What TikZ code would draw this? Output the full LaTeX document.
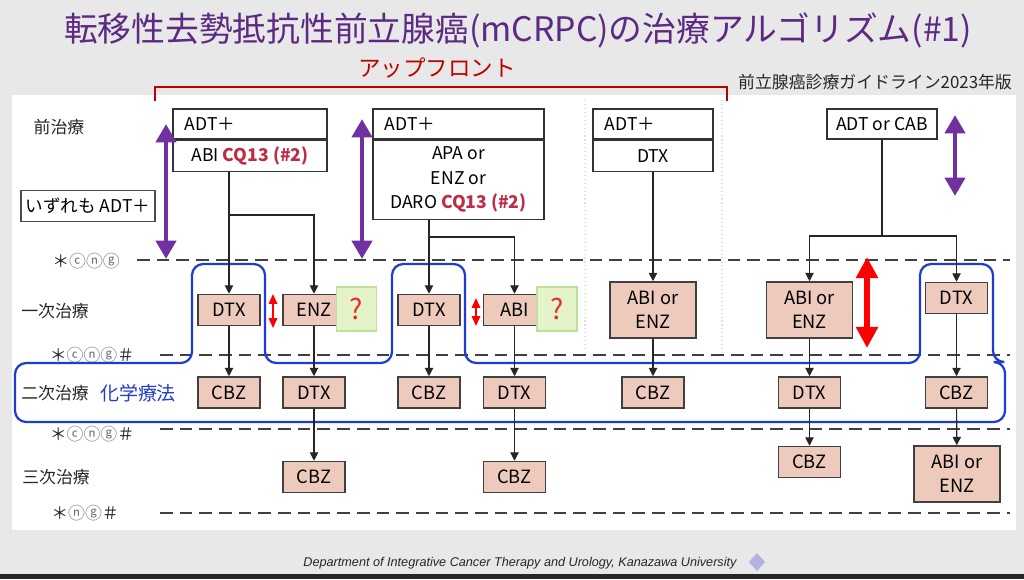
\documentclass[tikz,border=0pt]{standalone}
\usepackage{fontspec}
\setmainfont{Noto Sans CJK JP}
\newfontfamily\footfont{Liberation Sans}
\usetikzlibrary{arrows.meta,positioning}

\definecolor{titlepurple}{HTML}{5C2A82}
\definecolor{arrowpurple}{HTML}{7030A0}
\definecolor{salmon}{HTML}{EECABC}
\definecolor{chemoblue}{HTML}{1E3CD2}
\definecolor{cqred}{HTML}{BE2D45}
\definecolor{upred}{HTML}{C00000}
\definecolor{qgreen}{HTML}{E4F4C8}
\definecolor{qgreenline}{HTML}{BEE09A}
\definecolor{qred}{HTML}{E53030}

\def\cng{＊{\color{black!55}ⓒⓝⓖ}}
\def\ng{＊{\color{black!55}ⓝⓖ}}

\tikzset{
  drug/.style={draw=black!75, fill=salmon, line width=1.1pt, minimum width=1.55cm,
    minimum height=0.775cm, inner sep=0pt, font=\fontsize{13}{17}\selectfont},
  drugtwo/.style={drug, minimum width=2.15cm, minimum height=1.4cm, align=center},
  prior/.style={draw=black!80, line width=0.8pt, fill=white, inner sep=0pt,
    font=\fontsize{12.5}{17.4}\selectfont},
  priortop/.style={prior, minimum height=0.75cm, inner xsep=0.3cm, align=left},
  conn/.style={line width=0.8pt, black!85, -{Triangle[width=6pt,length=6pt]}},
  plain/.style={line width=0.8pt, black!85},
  rowline/.style={line width=2pt, black!75, dash pattern=on 9pt off 5pt},
  rowlabel/.style={font=\fontsize{12}{14}\selectfont, black!85},
  marklabel/.style={font=\fontsize{12}{13}\selectfont, black!85},
  query/.style={draw=qgreenline, fill=qgreen, line width=0.8pt, minimum width=1cm,
    minimum height=1.1cm, inner sep=0pt, text=qred, font=\fontsize{20}{22}\selectfont},
  bigpurple/.style={arrowpurple, line width=3.5pt,
    {Triangle[width=14pt,length=13pt]}-{Triangle[width=14pt,length=13pt]}},
  bigred/.style={red, line width=4pt,
    {Triangle[width=15pt,length=15pt]}-{Triangle[width=15pt,length=15pt]}},
  smallred/.style={red, line width=1.3pt,
    {Triangle[width=6pt,length=7pt]}-{Triangle[width=6pt,length=7pt]}},
  chemo/.style={chemoblue, line width=1.6pt, rounded corners=8pt},
}

\begin{document}
\begin{tikzpicture}[x=0.025cm, y=-0.025cm]
		%%%%% START %%%%%
		\useasboundingbox (0,0) rectangle (1024,579);
		\fill[black!9] (0,0) rectangle (1024,579);
		\fill[white] (12,95) rectangle (1016,530);
		\fill[black!85] (0,574) rectangle (1024,579);
		
		% title and header
		\node[titlepurple, font=\fontsize{24}{28}\selectfont] (title) at (518,30)
			{転移性去勢抵抗性前立腺癌(mCRPC)の治療アルゴリズム(\#1)};
		\node[upred, font=\fontsize{16}{18}\selectfont] (upfront) at (437,68) {アップフロント};
		\node[black!85, font=\fontsize{12}{14}\selectfont] (guide) at (875,82) {前立腺癌診療ガイドライン2023年版};
		\draw[upred, line width=1.5pt] (155,101) -- (155,87) -- (727,87) -- (727,101);
		
		\draw[black!12, dotted, line width=0.8pt] (585,100) -- (585,352);
		\draw[black!12, dotted, line width=0.8pt] (722,100) -- (722,352);
		
		% row separators
		\draw[rowline] (137,260) -- (1010,260);
		\draw[rowline] (160,355) -- (1010,355);
		\draw[rowline] (160,429) -- (1010,429);
		\draw[rowline] (160,513) -- (1010,513);
		
		\node[marklabel] (m1) at (86,261) {\cng};
		\node[marklabel] (m2) at (92,355) {\cng＃};
		\node[marklabel] (m3) at (92,434) {\cng＃};
		\node[marklabel] (m4) at (85,513) {\ng＃};
		
		\node[rowlabel] (pre) at (59,127) {前治療};
		\node[rowlabel] (first) at (55,311) {一次治療};
		\node[rowlabel] (second) at (55,393) {二次治療};
		\node[chemoblue, font=\fontsize{13.5}{15}\selectfont] (chemotext) at (138,393) {化学療法};
		\node[rowlabel] (third) at (56,477) {三次治療};
		\node[prior, draw=black!70, minimum width=3.35cm, minimum height=0.775cm] (alladt) at (88,206) {いずれも ADT＋};
		
		% chemotherapy frame
		\draw[chemo] (15,392) -- (15,363) -- (192,363) -- (192,264) -- (265,264) -- (265,363)
			-- (392,363) -- (392,264) -- (465,264) -- (465,363) -- (920,363) -- (920,264)
			-- (993,264) -- (993,362) -- (1005,362) -- (1005,422) -- (15,422) -- cycle;
		
		% prior therapy boxes
		\node[priortop, text width=3.25cm] (b1top) at (250,124) {ADT＋};
		\node[prior, minimum width=3.85cm, minimum height=0.775cm, below=0pt of b1top] (b1bot)
			{ABI {\color{cqred}\bfseries CQ13 (\#2)}};
		\node[priortop, text width=3.675cm] (b2top) at (458.5,124) {ADT＋};
		\node[prior, minimum width=4.275cm, minimum height=1.975cm, align=center, below=0pt of b2top] (b2bot)
			{APA or\\ENZ or\\DARO {\color{cqred}\bfseries CQ13 (\#2)}};
		\node[priortop, text width=2.4cm] (b3top) at (653,124) {ADT＋};
		\node[prior, minimum width=3cm, minimum height=0.775cm, below=0pt of b3top] (b3bot) {DTX};
		\node[prior, minimum width=2.75cm, minimum height=0.75cm] (b4) at (882,124) {ADT or CAB};
		
		% first line
		\node[drug] (dtxA) at (229,310) {DTX};
		\node[drug] (enzA) at (314,310) {ENZ};
		\node[query] (qA) at (356.5,309) {?};
		\node[drug] (dtxB) at (429,310) {DTX};
		\node[drug] (abiB) at (514.5,310) {ABI};
		\node[query] (qB) at (557,309) {?};
		\node[drugtwo] (abienzC) at (653,310) {ABI or\\ENZ};
		\node[drugtwo] (abienzD) at (809.5,310) {ABI or\\ENZ};
		\node[drug] (dtxE) at (956.5,298) {DTX};
		
		% second line
		\node[drug] (cbzA) at (229,392.5) {CBZ};
		\node[drug] (dtxA2) at (314,392.5) {DTX};
		\node[drug] (cbzB) at (429,392.5) {CBZ};
		\node[drug] (dtxB2) at (514.5,392.5) {DTX};
		\node[drug] (cbzC) at (653,392.5) {CBZ};
		\node[drug] (dtxD2) at (809.5,392.5) {DTX};
		\node[drug] (cbzE) at (956.5,392.5) {CBZ};
		
		% third line
		\node[drug] (cbzA3) at (314,477) {CBZ};
		\node[drug] (cbzB3) at (514.5,477) {CBZ};
		\node[drug] (cbzD3) at (809.5,462) {CBZ};
		\node[drugtwo] (abienzE3) at (957,474) {ABI or\\ENZ};
		
		% connectors
		\coordinate (forkA) at (229,215);
		\coordinate (forkB) at (429,237);
		\coordinate (forkD) at (882,236);
		\draw[conn] (b1bot.south -| dtxA) -- (dtxA.north);
		\draw[conn] (forkA) -| (enzA.north);
		\draw[conn] (b2bot.south -| dtxB) -- (dtxB.north);
		\draw[conn] (forkB) -| (abiB.north);
		\draw[conn] (b3bot.south) -- (abienzC.north);
		\draw[plain] (b4.south) -- (forkD);
		\draw[conn] (forkD) -| (abienzD.north);
		\draw[conn] (forkD) -| (dtxE.north);
		
		\draw[conn] (dtxA) -- (cbzA);
		\draw[conn] (enzA) -- (dtxA2);
		\draw[conn] (dtxB) -- (cbzB);
		\draw[conn] (abiB) -- (dtxB2);
		\draw[conn] (abienzC) -- (cbzC);
		\draw[conn] (abienzD) -- (dtxD2);
		\draw[conn] (dtxE) -- (cbzE);
		\draw[conn] (dtxA2) -- (cbzA3);
		\draw[conn] (dtxB2) -- (cbzB3);
		\draw[conn] (dtxD2) -- (cbzD3);
		\draw[conn] (cbzE) -- (abienzE3);
		
		% purple and red arrows
		\draw[bigpurple] (166,124) -- (166,259);
		\draw[bigpurple] (362,119) -- (362,259);
		\draw[bigpurple] (955,115) -- (955,196);
		\draw[bigred] (867,257) -- (867,348);
		\draw[smallred] (273,294) -- (273,328);
		\draw[smallred] (476,298) -- (476,326);
		
		% footer
		\node[black!85, font=\footfont\itshape\fontsize{9}{11}\selectfont] (footer) at (520,563)
			{Department of Integrative Cancer Therapy and Urology, Kanazawa University};
		\fill[black!35!blue!30] (757,553) -- (765,562) -- (757,571) -- (749,562) -- cycle;
		
		%%%%% END %%%%%
	\end{tikzpicture}
\end{document}
